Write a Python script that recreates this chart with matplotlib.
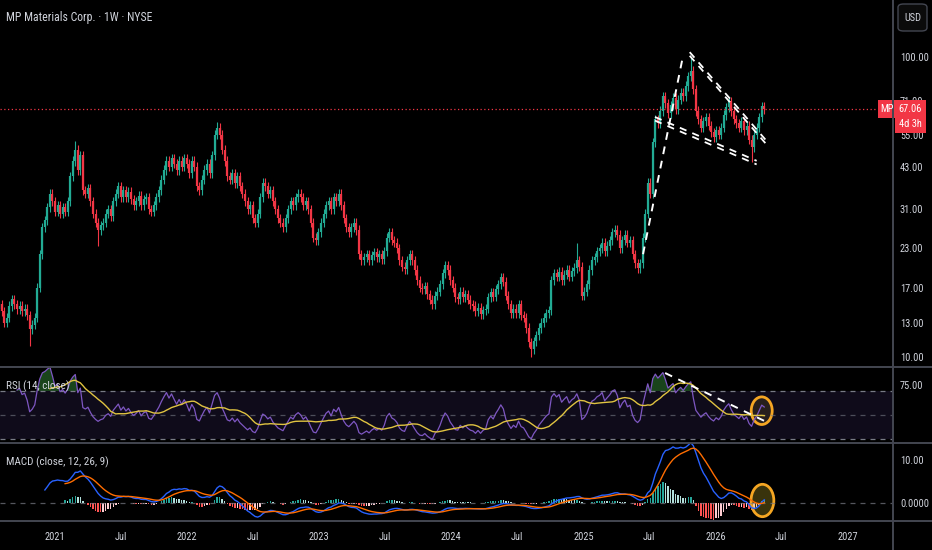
import matplotlib
matplotlib.use('Agg')
import numpy as np
import pandas as pd
import matplotlib.pyplot as plt
import matplotlib.dates as mdates
from matplotlib import font_manager
from matplotlib.patches import Ellipse, Rectangle, FancyBboxPatch
from matplotlib.lines import Line2D
from matplotlib.ticker import NullLocator, FixedLocator, FixedFormatter

# ---------------- data ----------------
start_date = '2020-06-12'
closes = [
    10.0, 10.3, 10.8, 11.2, 12.5, 13.8, 14.5, 15.0, 14.2, 13.0,
    13.5, 14.8, 15.6, 15.0, 14.4, 14.8, 14.2, 14.5, 13.8, 12.4,
    12.8, 13.5, 17.0, 22.0, 27.0, 28.5, 31.5, 35.0, 33.0, 30.5,
    32.0, 30.0, 31.5, 30.5, 33.0, 40.0, 45.0, 49.0, 42.0, 47.0,
    36.0, 35.0, 36.5, 33.0, 30.0, 28.0, 26.5, 27.5, 28.0, 30.0,
    31.0, 29.5, 33.0, 35.0, 37.0, 34.0, 36.0, 34.0, 35.5, 33.5,
    32.0, 33.0, 34.5, 32.0, 33.5, 34.0, 31.0, 30.5, 32.0, 34.0,
    36.0, 39.0, 42.0, 45.0, 43.0, 46.0, 44.0, 42.0, 45.0, 43.0,
    46.0, 44.0, 41.0, 45.0, 43.0, 37.0, 36.0, 39.0, 42.0, 44.0,
    41.0, 47.0, 55.0, 58.0, 55.0, 49.0, 45.0, 40.0, 39.0, 41.0,
    38.0, 40.0, 37.0, 35.0, 33.0, 31.0, 32.0, 29.0, 28.0, 30.0,
    34.0, 38.0, 37.0, 35.0, 36.0, 33.0, 31.0, 29.0, 28.0, 27.0,
    29.0, 31.0, 33.0, 32.0, 34.0, 35.0, 34.0, 32.0, 33.0, 31.0,
    28.0, 25.0, 24.5, 26.0, 28.0, 30.0, 32.0, 33.0, 31.0, 34.0,
    33.0, 35.0, 32.0, 29.0, 27.0, 26.0, 27.0, 28.0, 26.5, 22.0,
    21.0, 21.5, 22.0, 21.0, 21.8, 22.3, 21.5, 22.0, 21.2, 22.5,
    25.0, 26.0, 24.5, 24.0, 23.0, 21.0, 20.0, 19.6, 21.0, 22.0,
    21.0, 19.5, 18.0, 17.0, 16.8, 17.2, 16.2, 15.5, 15.0, 16.0,
    16.5, 17.5, 19.0, 20.2, 19.5, 18.0, 17.0, 15.8, 15.6, 16.5,
    15.8, 16.2, 15.5, 15.0, 14.8, 14.2, 14.6, 13.9, 14.3, 14.5,
    15.8, 16.4, 15.9, 16.8, 17.5, 18.4, 17.8, 16.0, 15.0, 14.0,
    14.5, 14.0, 15.0, 13.8, 13.5, 12.5, 11.2, 10.6, 11.3, 11.8,
    12.5, 13.0, 13.5, 14.0, 14.3, 18.0, 19.0, 18.5, 19.2, 18.0,
    18.8, 19.5, 18.5, 19.3, 19.8, 21.0, 20.0, 16.0, 16.5, 17.5,
    19.5, 21.0, 21.5, 22.5, 23.0, 24.0, 22.5, 23.5, 24.5, 26.0,
    26.5, 25.5, 23.0, 24.5, 25.5, 24.0, 24.5, 22.0, 20.5, 19.8,
    20.5, 25.0, 30.0, 38.0, 35.0, 52.0, 62.0, 60.0, 66.0, 74.0,
    70.0, 65.0, 69.0, 73.0, 67.0, 72.0, 76.0, 74.0, 80.0, 86.0,
    90.0, 78.0, 66.0, 62.0, 58.0, 61.0, 63.0, 59.0, 56.0, 54.0,
    57.0, 55.0, 58.0, 64.0, 68.0, 71.0, 66.0, 62.0, 60.0, 58.0,
    61.0, 57.0, 59.0, 53.0, 50.0, 55.0, 58.0, 63.0, 68.5, 67.06,
]
high_extremes = {37: 52.5, 93: 60.5, 235: 24.0, 280: 100.0}
low_extremes = {19: 10.9, 46: 23.5, 217: 10.0, 304: 44.5}

price_ticks = [10, 13, 17, 23, 31, 43, 55, 71, 100]
rsi_ticks = [75]
macd_ticks = [0, 10]
x_tick_dates = ['2021-01-01', '2021-07-01', '2022-01-01', '2022-07-01', '2023-01-01',
                '2023-07-01', '2024-01-01', '2024-07-01', '2025-01-01', '2025-07-01',
                '2026-01-01', '2026-07-01', '2027-01-01']
x_tick_labels = ['2021', 'Jul', '2022', 'Jul', '2023', 'Jul', '2024', 'Jul', '2025',
                 'Jul', '2026', 'Jul', '2027']

# drawings (date, value)
flagpole = [('2025-06-14', 22.0), ('2025-10-02', 100.0)]
flag_upper = [('2025-10-21', 100.8), ('2026-05-24', 50.6)]
flag_lower = [('2025-07-17', 61.3), ('2026-04-24', 43.8)]
rsi_trend = [('2025-08-14', 85.0), ('2026-05-16', 45.0)]

# ---------------- style ----------------
names = {f.name for f in font_manager.fontManager.ttflist}
fam = 'DejaVu Sans'
for cand in ['Liberation Sans Narrow', 'Roboto Condensed', 'Liberation Sans']:
    if cand in names:
        fam = cand
        break
plt.rcParams['font.family'] = [fam, 'DejaVu Sans']

BG = '#000000'
TXT = '#d1d4dc'
GRID = '#434651'
UP = '#22ab94'
DN = '#f23645'

W, H = 932, 550
fig = plt.figure(figsize=(W / 100, H / 100), dpi=100, facecolor=BG)


def fb(x0, y0, x1, y1):
    return [x0 / W, 1 - y1 / H, (x1 - x0) / W, (y1 - y0) / H]


ax = fig.add_axes(fb(0, 0, 893, 367))
axr = fig.add_axes(fb(0, 367, 893, 443), sharex=ax)
axm = fig.add_axes(fb(0, 443, 893, 520.5), sharex=ax)

c = np.array(closes, dtype=float)
n = len(c)
dates = pd.date_range(start_date, periods=n, freq='7D')
x = mdates.date2num(dates)
o = np.r_[c[0] * 0.95, c[:-1]]
hi = np.maximum(o, c) * 1.035
lo = np.minimum(o, c) * 0.965
for k, v in high_extremes.items():
    hi[k] = v
for k, v in low_extremes.items():
    lo[k] = v
cols = np.where(c >= o, UP, DN)

# x range
ppd = 132.17 / 365.25
x2021 = mdates.date2num(pd.Timestamp('2021-01-01'))
xlim = (x2021 - 55 / ppd, x2021 + 838 / ppd)

for a in (ax, axr, axm):
    a.set_facecolor(BG)
    for s in a.spines.values():
        s.set_visible(False)
    a.tick_params(colors=TXT, length=0, labelsize=7.5)
    a.yaxis.tick_right()
    a.set_xlim(*xlim)

# ---- main price ----
ax.vlines(x, lo, hi, colors=cols, lw=0.8)
ax.vlines(x, np.minimum(o, c), np.maximum(o, c), colors=cols, lw=1.6)
ax.set_yscale('log')
ax.set_ylim(9.26, 154.6)
ax.yaxis.set_minor_locator(NullLocator())
ax.yaxis.set_major_locator(FixedLocator(price_ticks))
ax.yaxis.set_major_formatter(FixedFormatter(['%.2f' % v for v in price_ticks]))
ax.tick_params(axis='y', pad=5)
ax.tick_params(axis='x', labelbottom=False)
ax.axhline(c[-1], color=DN, lw=0.9, ls=(0, (1, 2)))

# trend drawings on price
def seg(pts):
    return ([mdates.date2num(pd.Timestamp(p[0])) for p in pts], [p[1] for p in pts])

dash = (0, (4, 3.5))
xs, ys = seg(flagpole)
ax.plot(xs, ys, color='white', lw=1.4, ls=dash)
for pts in (flag_upper, flag_lower):
    xs, ys = seg(pts)
    ax.plot(xs, ys, color='white', lw=1.3, ls=dash)
    ax.plot(xs, [v * 1.028 for v in ys], color='white', lw=1.3, ls=dash)

# ---- RSI ----
s = pd.Series(c)
d = s.diff()
gain = d.clip(lower=0)
loss = -d.clip(upper=0)
ag = gain.ewm(alpha=1 / 14, adjust=False).mean()
al = loss.ewm(alpha=1 / 14, adjust=False).mean()
rsi = 100 - 100 / (1 + ag / al)
rsi[:14] = np.nan
rsi_ma = rsi.rolling(14).mean()

axr.set_ylim(26.7, 90)
axr.axhspan(30, 70, color='#0f0b1a', lw=0)
axr.axhline(70, color='#787b86', lw=0.9, ls=(0, (4, 4)))
axr.axhline(30, color='#787b86', lw=0.9, ls=(0, (4, 4)))
axr.axhline(50, color='#787b86', lw=0.9, ls=(0, (4, 4)), alpha=0.6)
rv = rsi.values
axr.fill_between(x, 70, rv, where=rv > 70, interpolate=True, color='#2e7d32', alpha=0.55, lw=0)
axr.plot(x, rv, color='#7e57c2', lw=0.9)
axr.plot(x, rsi_ma.values, color='#e0c341', lw=1.0)
xs, ys = seg(rsi_trend)
axr.plot(xs, ys, color='white', lw=1.4, ls=dash)
axr.yaxis.set_major_locator(FixedLocator(rsi_ticks))
axr.yaxis.set_major_formatter(FixedFormatter(['75.00']))
axr.tick_params(axis='y', pad=5)
axr.tick_params(axis='x', labelbottom=False)
axr.add_patch(Ellipse((mdates.date2num(pd.Timestamp('2026-05-08')), 53.6), 58, 23,
                      facecolor=(1, 0.85, 0.2, 0.10), edgecolor='#f5a623', lw=2))

# ---- MACD ----
e12 = s.ewm(span=12, adjust=False).mean()
e26 = s.ewm(span=26, adjust=False).mean()
macd = e12 - e26
sig = macd.ewm(span=9, adjust=False).mean()
hist = macd - sig
macd[:25] = np.nan
sig[:33] = np.nan
hist[:33] = np.nan
hv = hist.values
hprev = np.r_[np.nan, hv[:-1]]
hcols = []
for h, p in zip(hv, hprev):
    if np.isnan(h):
        hcols.append('#000000')
    elif h >= 0:
        hcols.append('#26a69a' if (np.isnan(p) or h > p) else '#b2dfdb')
    else:
        hcols.append('#ffcdd2' if (not np.isnan(p) and h > p) else '#ff5252')
axm.set_ylim(-4.2, 14.0)
axm.axhline(0, color='#787b86', lw=0.9, ls=(0, (4, 4)), alpha=0.7)
axm.bar(x, np.nan_to_num(hv), width=4.0, color=hcols, lw=0)
axm.plot(x, macd.values, color='#2962ff', lw=1.0)
axm.plot(x, sig.values, color='#ff6d00', lw=1.0)
axm.yaxis.set_major_locator(FixedLocator(macd_ticks))
axm.yaxis.set_major_formatter(FixedFormatter(['0.0000', '10.00']))
axm.tick_params(axis='y', pad=5)
axm.add_patch(Ellipse((mdates.date2num(pd.Timestamp('2026-05-10')), 0.5), 63, 7.6,
                      facecolor=(0.9, 0.8, 0.2, 0.25), edgecolor='#f5a623', lw=2))
axm.xaxis.set_major_locator(FixedLocator(mdates.date2num(pd.to_datetime(x_tick_dates))))
axm.xaxis.set_major_formatter(FixedFormatter(x_tick_labels))
axm.tick_params(axis='x', pad=8, labelsize=7.5)
axm.set_xlim(*xlim)

# ---- separators ----
def hline(py, x0=0, x1=W):
    fig.add_artist(Line2D([x0 / W, x1 / W], [1 - py / H, 1 - py / H], color=GRID, lw=1.4,
                          transform=fig.transFigure))

hline(367)
hline(443)
hline(520.5)
fig.add_artist(Line2D([893 / W, 893 / W], [0, 1], color=GRID, lw=1.4, transform=fig.transFigure))

# ---- labels ----
fig.text(6 / W, 1 - 18 / H, 'MP Materials Corp. · 1W · NYSE', color=TXT, fontsize=8.5, va='center')
fig.text(6 / W, 1 - 386 / H, 'RSI (14, close)', color=TXT, fontsize=8, va='center')
fig.text(6 / W, 1 - 462 / H, 'MACD (close, 12, 26, 9)', color=TXT, fontsize=8, va='center')

fig.add_artist(FancyBboxPatch((898 / W, 1 - 31 / H), 29 / W, 27 / H,
                              boxstyle='round,pad=0,rounding_size=0.006',
                              facecolor='#0b0b0b', edgecolor=GRID, lw=1.0,
                              transform=fig.transFigure))
fig.text(912.5 / W, 1 - 18 / H, 'USD', color=TXT, fontsize=7.5, ha='center', va='center')

# price label positioned from last close
fig.canvas.draw()
ypix = ax.transData.transform((x[-1], c[-1]))[1]
yf = ypix / fig.bbox.height
top = yf + 9 / H
fig.add_artist(Rectangle((878 / W, top - 18 / H), 17 / W, 18 / H, facecolor=DN, lw=0,
                         transform=fig.transFigure))
fig.add_artist(Rectangle((895 / W, top - 33 / H), 31 / W, 33 / H, facecolor=DN, lw=0,
                         transform=fig.transFigure))
fig.text(886.5 / W, yf, 'MP', color='white', fontsize=7.5, ha='center', va='center')
fig.text(910.5 / W, yf, '%.2f' % c[-1], color='white', fontsize=7.5, ha='center', va='center')
fig.text(910.5 / W, yf - 15 / H, '4d 3h', color='white', fontsize=7.5, ha='center', va='center')

fig.savefig('out.png', dpi=100, facecolor=BG)
